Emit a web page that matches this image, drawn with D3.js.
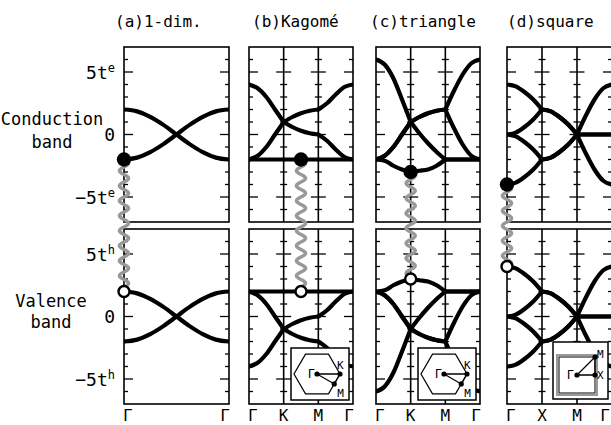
<!DOCTYPE html>
<html>
<head>
<meta charset="utf-8">
<script src="https://cdn.jsdelivr.net/npm/d3@7"></script>
<style>
body { margin: 0; background: #fff; }
svg { display: block; font-family: "DejaVu Sans Mono", monospace; }
</style>
</head>
<body>
<script>
// ---- data ----
const titles = ["(a)1-dim.", "(b)Kagomé", "(c)triangle", "(d)square"];
const kLabels = [["Γ", "Γ"], ["Γ", "K", "M", "Γ"], ["Γ", "K", "M", "Γ"], ["Γ", "X", "M", "Γ"]];
const eTicks = [5, 0, -5];

const kChain = [0, 0.125, 0.25, 0.375, 0.5, 0.625, 0.75, 0.875, 1];
const kPath = [0, 0.25, 0.5, 0.75, 1, 1.25, 1.5, 1.75, 2, 2.25, 2.5, 2.75, 3];

const chainCond = [
  [2, 1.85, 1.41, 0.77, 0, -0.77, -1.41, -1.85, -2],
  [-2, -1.85, -1.41, -0.77, 0, 0.77, 1.41, 1.85, 2]
];
const chainVal = [
  [2, 1.85, 1.41, 0.77, 0, -0.77, -1.41, -1.85, -2],
  [-2, -1.85, -1.41, -0.77, 0, 0.77, 1.41, 1.85, 2]
];

const kagomeCond = [
  [-2, -2, -2, -2, -2, -2, -2, -2, -2, -2, -2, -2, -2],
  [4, 3.7, 3, 2, 1, 1.4, 1.7, 1.9, 2, 2.5, 3.2, 3.8, 4],
  [-2, -1.7, -1, 0, 1, 0.6, 0.3, 0.1, 0, -0.5, -1.2, -1.8, -2]
];
const kagomeVal = [
  [2, 2, 2, 2, 2, 2, 2, 2, 2, 2, 2, 2, 2],
  [-4, -3.7, -3, -2, -1, -1.4, -1.7, -1.9, -2, -2.5, -3.2, -3.8, -4],
  [2, 1.7, 1, 0, -1, -0.6, -0.3, -0.1, 0, 0.5, 1.2, 1.8, 2]
];

const triCond = [
  [6, 5.6, 4.5, 2.8, 1, 1.4, 1.7, 1.9, 2, 3.5, 4.8, 5.7, 6],
  [-2, -2.1, -2.5, -2.8, -3, -2.9, -2.8, -2.5, -2, -2, -2, -2, -2],
  [-2, -1.7, -1, 0, 1, 1.4, 1.7, 1.9, 2, 0.5, -0.8, -1.7, -2],
  [-2, -1.7, -1, 0, 1, 0.1, -0.7, -1.4, -2, -2, -2, -2, -2]
];
const triVal = [
  [-6, -5.6, -4.5, -2.8, -1, -1.4, -1.7, -1.9, -2, -3.5, -4.8, -5.7, -6],
  [2, 2.1, 2.5, 2.8, 3, 2.9, 2.8, 2.5, 2, 2, 2, 2, 2],
  [2, 1.7, 1, 0, -1, -1.4, -1.7, -1.9, -2, -0.5, 0.8, 1.7, 2],
  [2, 1.7, 1, 0, -1, -0.1, 0.7, 1.4, 2, 2, 2, 2, 2]
];

const sqCond = [
  [4, 3.85, 3.4, 2.8, 2, 1.85, 1.4, 0.8, 0, 1.5, 2.8, 3.7, 4],
  [0, 0.15, 0.6, 1.2, 2, 1.85, 1.4, 0.8, 0, 0, 0, 0, 0],
  [0, -0.15, -0.6, -1.2, -2, -1.85, -1.4, -0.8, 0, 0, 0, 0, 0],
  [-4, -3.85, -3.4, -2.8, -2, -1.85, -1.4, -0.8, 0, -1.5, -2.8, -3.7, -4]
];
const sqVal = [
  [-4, -3.85, -3.4, -2.8, -2, -1.85, -1.4, -0.8, 0, -1.5, -2.8, -3.7, -4],
  [0, -0.15, -0.6, -1.2, -2, -1.85, -1.4, -0.8, 0, 0, 0, 0, 0],
  [0, 0.15, 0.6, 1.2, 2, 1.85, 1.4, 0.8, 0, 0, 0, 0, 0],
  [4, 3.85, 3.4, 2.8, 2, 1.85, 1.4, 0.8, 0, 1.5, 2.8, 3.7, 4]
];

// band edges joined by the exciton line (k, conduction minimum, valence maximum)
const dotK = [0, 1.5, 1, 0];
const dotCond = [-2, -2, -3, -4];
const dotVal = [2, 2, 3, 4];

// ---- layout ----
const W = 611, H = 425;
const frameX = [[124, 229], [249, 353], [376, 480], [507, 612]];
const titleX = [115, 252, 370, 507];
const bandBox = { cond: [47, 222], val: [229, 404] };

const svg = d3.select("body").append("svg")
  .attr("width", W)
  .attr("height", H);

const panels = [
  { k: kChain, cond: chainCond, val: chainVal, inset: null },
  { k: kPath, cond: kagomeCond, val: kagomeVal, inset: "hex" },
  { k: kPath, cond: triCond, val: triVal, inset: "hex" },
  { k: kPath, cond: sqCond, val: sqVal, inset: "square" }
];

const yScale = {};
Object.keys(bandBox).forEach(b => {
  yScale[b] = d3.scaleLinear().domain([-7, 7]).range([bandBox[b][1], bandBox[b][0]]);
});

panels.forEach((p, i) => {
  const [x0, x1] = frameX[i];
  const nSeg = kLabels[i].length - 1;
  const x = d3.scaleLinear().domain([0, nSeg]).range([x0, x1]);
  const perSeg = (p.k.length - 1) / nSeg;

  ["cond", "val"].forEach(b => {
    const y = yScale[b];
    const [top, bottom] = bandBox[b];
    const g = svg.append("g");

    const clipId = "clip" + i + b;
    svg.append("clipPath").attr("id", clipId)
      .append("rect")
      .attr("x", x0).attr("y", top)
      .attr("width", x1 - x0).attr("height", bottom - top);

    const line = d3.line()
      .x(d => x(d[0]))
      .y(d => y(d[1]))
      .curve(d3.curveMonotoneX);

    const bands = g.append("g").attr("clip-path", "url(#" + clipId + ")");
    p[b].forEach(vals => {
      for (let s = 0; s < nSeg; s++) {
        const pts = [];
        for (let j = s * perSeg; j <= (s + 1) * perSeg; j++) pts.push([p.k[j], vals[j]]);
        bands.append("path")
          .attr("d", line(pts))
          .attr("fill", "none")
          .attr("stroke", "#000")
          .attr("stroke-width", 4.2)
          .attr("stroke-linecap", "round")
          .attr("stroke-linejoin", "round");
      }
    });

    // frame
    g.append("rect")
      .attr("x", x0).attr("y", top)
      .attr("width", x1 - x0).attr("height", bottom - top)
      .attr("fill", "none")
      .attr("stroke", "#000")
      .attr("stroke-width", 1.6);

    // inner lines at the symmetry points
    d3.range(1, nSeg).forEach(s => {
      g.append("line")
        .attr("x1", x(s)).attr("x2", x(s))
        .attr("y1", top).attr("y2", bottom)
        .attr("stroke", "#000").attr("stroke-width", 1.6);
    });

    // ticks
    d3.range(-6, 7).forEach(v => {
      const major = v % 5 === 0;
      const len = major ? 9 : 4;
      const yy = y(v);
      g.append("line").attr("x1", x0).attr("x2", x0 + len).attr("y1", yy).attr("y2", yy)
        .attr("stroke", "#000").attr("stroke-width", 1.3);
      g.append("line").attr("x1", x1 - len).attr("x2", x1).attr("y1", yy).attr("y2", yy)
        .attr("stroke", "#000").attr("stroke-width", 1.3);
      d3.range(1, nSeg).forEach(s => {
        const h = major ? 7.5 : 3.5;
        g.append("line").attr("x1", x(s) - h).attr("x2", x(s) + h).attr("y1", yy).attr("y2", yy)
          .attr("stroke", "#000").attr("stroke-width", 1.3);
      });
    });

    // energy labels on the first panel
    if (i === 0) {
      const sup = b === "cond" ? "e" : "h";
      eTicks.forEach(v => {
        const t = g.append("text")
          .attr("x", 115)
          .attr("y", y(v) + 6.5)
          .attr("text-anchor", "end")
          .attr("font-size", 18);
        if (v === 0) {
          t.text("0");
        } else {
          t.append("tspan").text((v < 0 ? "−" : "") + Math.abs(v) + "t");
          t.append("tspan").attr("dy", -7).attr("font-size", 12).text(sup);
        }
      });
    }
  });

  // inset with the Brillouin zone
  if (p.inset) {
    const names = kLabels[i];
    const ig = svg.append("g");
    let bx, by, bw, bh, G, A, B;
    if (p.inset === "hex") {
      bw = 58; bh = 52;
      bx = x1 - 4 - bw; by = bandBox.val[1] - 4 - bh;
      const r = 23;
      G = [bx + 26, by + 26];
      A = [G[0] + r, G[1]];
      B = [G[0] + 0.75 * r, G[1] + 0.433 * r];
      const hex = d3.range(6).map(n => [G[0] + r * Math.cos(n * Math.PI / 3), G[1] + r * Math.sin(n * Math.PI / 3)]);
      ig.append("rect").attr("x", bx).attr("y", by).attr("width", bw).attr("height", bh)
        .attr("fill", "#fff").attr("stroke", "#000").attr("stroke-width", 1.5);
      ig.append("path").attr("d", d3.line()(hex) + "Z")
        .attr("fill", "none").attr("stroke", "#000").attr("stroke-width", 1.2);
      ig.append("text").attr("x", G[0] - 2).attr("y", G[1] + 4).attr("text-anchor", "end")
        .attr("font-size", 12).text(names[0]);
      ig.append("text").attr("x", A[0] - 3).attr("y", A[1] - 5)
        .attr("font-size", 11).text(names[1]);
      ig.append("text").attr("x", B[0] + 3).attr("y", B[1] + 13)
        .attr("font-size", 11).text(names[2]);
    } else {
      bw = 55; bh = 57;
      bx = x1 - 4 - bw; by = bandBox.val[1] - 5 - bh;
      G = [bx + 24, by + 33];
      A = [G[0] + 18, G[1]];
      B = [G[0] + 18, G[1] - 18];
      ig.append("rect").attr("x", bx).attr("y", by).attr("width", bw).attr("height", bh)
        .attr("fill", "#fff").attr("stroke", "#000").attr("stroke-width", 1.5);
      ig.append("rect").attr("x", G[0] - 20).attr("y", G[1] - 20).attr("width", 40).attr("height", 40)
        .attr("fill", "none").attr("stroke", "#999").attr("stroke-width", 2);
      ig.append("rect").attr("x", G[0] - 18).attr("y", G[1] - 18).attr("width", 36).attr("height", 36)
        .attr("fill", "none").attr("stroke", "#000").attr("stroke-width", 1);
      ig.append("text").attr("x", G[0] - 3).attr("y", G[1] + 4).attr("text-anchor", "end")
        .attr("font-size", 12).text(names[0]);
      ig.append("text").attr("x", A[0] + 2).attr("y", A[1] + 4)
        .attr("font-size", 11).text(names[1]);
      ig.append("text").attr("x", B[0] + 2).attr("y", B[1] + 1)
        .attr("font-size", 11).text(names[2]);
    }
    ig.append("path").attr("d", d3.line()([G, A, B, G]))
      .attr("fill", "none").attr("stroke", "#000").attr("stroke-width", 1.3);
    [G, A, B].forEach(pt => {
      ig.append("circle").attr("cx", pt[0]).attr("cy", pt[1]).attr("r", 2.6).attr("fill", "#000");
    });
  }

  // k labels under the panel
  kLabels[i].forEach((lab, s) => {
    const anchor = s === 0 ? "start" : (s === nSeg ? "end" : "middle");
    let lx = x(s) + (s === 0 ? -1 : (s === nSeg ? 1 : 0));
    lx = Math.min(lx, W - 1);
    svg.append("text")
      .attr("x", lx)
      .attr("y", 421)
      .attr("text-anchor", anchor)
      .attr("font-size", 16)
      .text(lab);
  });

  // title
  svg.append("text")
    .attr("x", titleX[i])
    .attr("y", 27)
    .attr("font-size", 16)
    .text(titles[i]);

  // exciton: wavy line between the band edges
  const xd = x(dotK[i]);
  const ya = yScale.cond(dotCond[i]);
  const yb = yScale.val(dotVal[i]);
  const wavePts = d3.range(0, yb - ya + 0.25, 0.5)
    .map(t => [xd + 4.6 * Math.sin(2 * Math.PI * t / 15), ya + t]);
  svg.append("path")
    .attr("d", d3.line()(wavePts))
    .attr("fill", "none")
    .attr("stroke", "#999")
    .attr("stroke-width", 3.4);

  svg.append("circle")
    .attr("cx", xd).attr("cy", ya).attr("r", 7.2)
    .attr("fill", "#000");
  svg.append("circle")
    .attr("cx", xd).attr("cy", yb).attr("r", 5.5)
    .attr("fill", "#fff").attr("stroke", "#000").attr("stroke-width", 2.4);
});

// band names
[["Conduction", 125], ["band", 148]].forEach(([t, yy]) => {
  svg.append("text").attr("x", 52).attr("y", yy).attr("text-anchor", "middle")
    .attr("font-size", 17).text(t);
});
[["Valence", 307], ["band", 328]].forEach(([t, yy]) => {
  svg.append("text").attr("x", 51).attr("y", yy).attr("text-anchor", "middle")
    .attr("font-size", 17).text(t);
});
</script>
</body>
</html>
